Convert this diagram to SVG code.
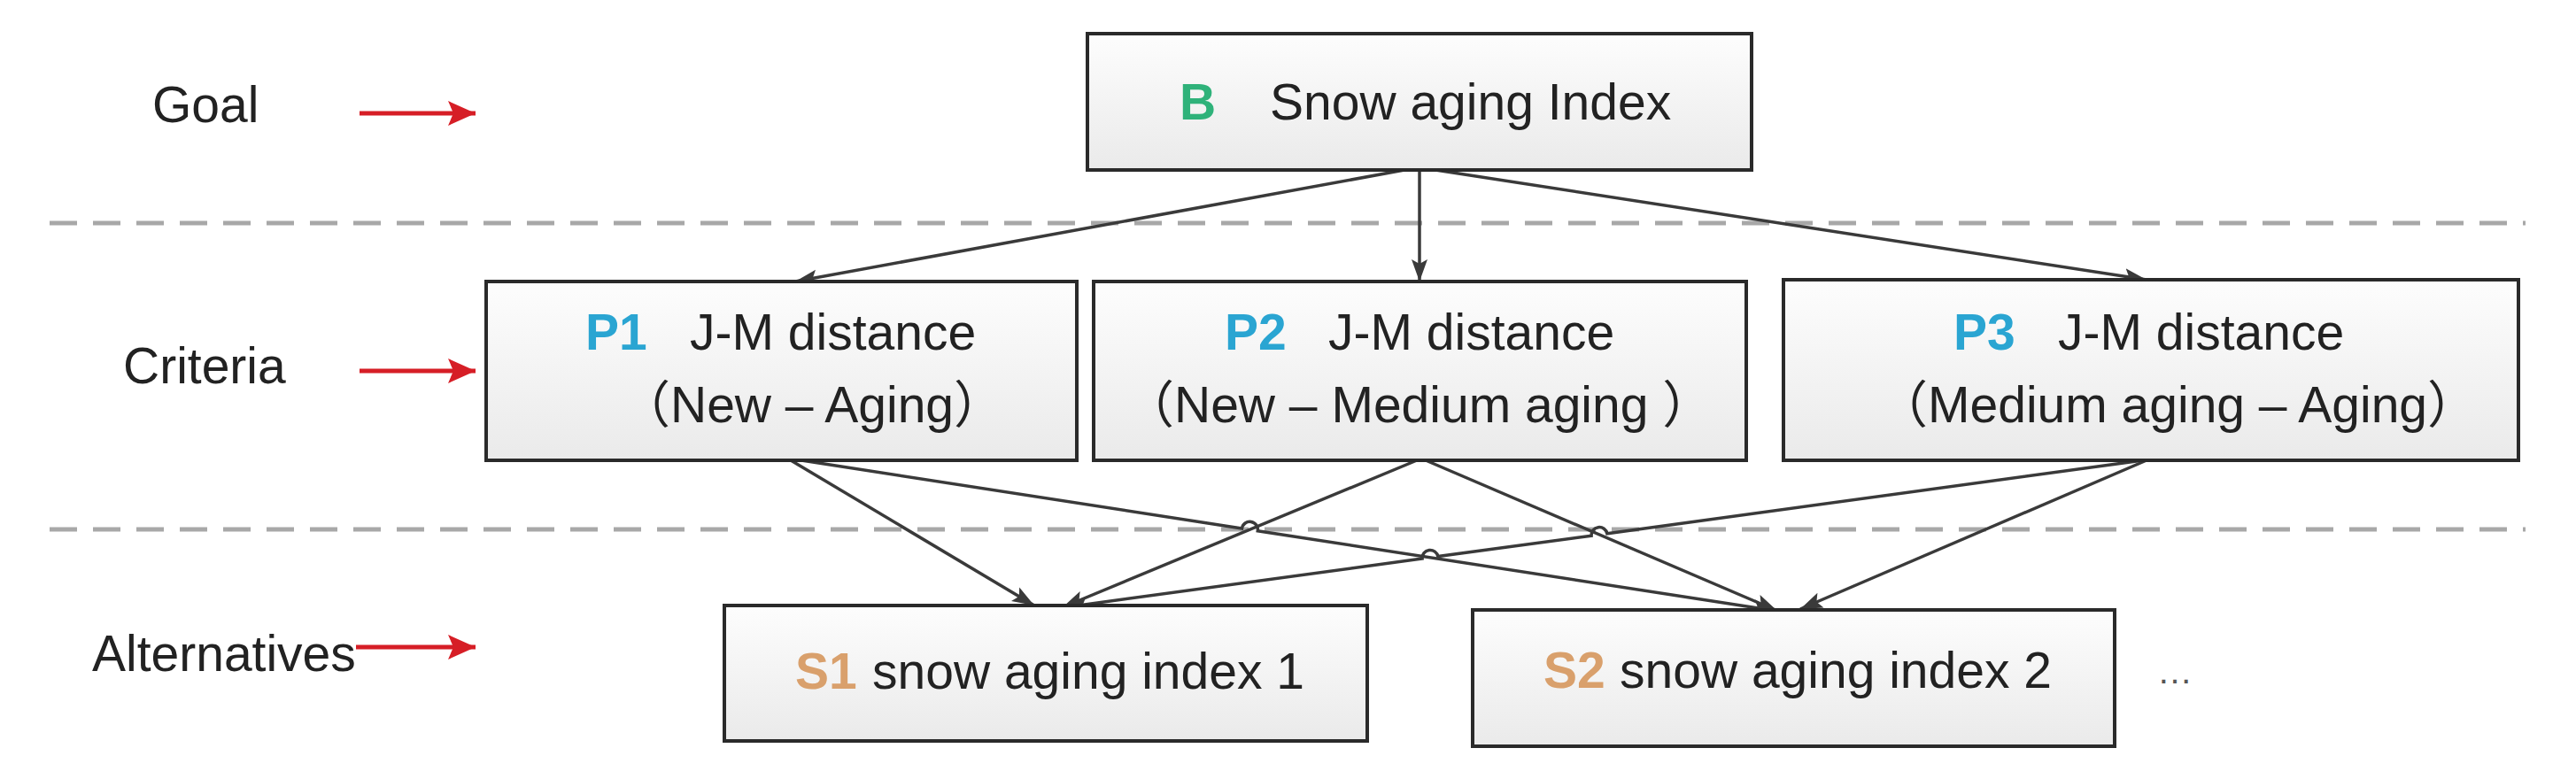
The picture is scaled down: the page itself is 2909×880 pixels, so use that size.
<svg xmlns="http://www.w3.org/2000/svg" width="2909" height="880" viewBox="0 0 2909 880">
<defs>
<linearGradient id="boxfill" x1="0" y1="0" x2="0" y2="1">
<stop offset="0" stop-color="#fdfdfd"/>
<stop offset="1" stop-color="#eaeaea"/>
</linearGradient>
<marker id="ah" markerUnits="userSpaceOnUse" markerWidth="26" markerHeight="20" refX="25" refY="10" orient="auto" viewBox="0 0 26 20">
<path d="M0,1 L25,10 L0,19 L5,10 z" fill="#3a3a3a"/>
</marker>
<marker id="rh" markerUnits="userSpaceOnUse" markerWidth="32" markerHeight="30" refX="31" refY="15" orient="auto" viewBox="0 0 32 30">
<path d="M0,1 L31,15 L0,29 L6,15 z" fill="#d61e26"/>
</marker>
</defs>
<style>
.box{fill:url(#boxfill);stroke:#2a2a2a;stroke-width:4}
.t{font-family:"Liberation Sans","Noto Sans CJK SC",Arial,sans-serif;font-size:57px;fill:#222}
.lab{font-family:"Liberation Sans",Arial,sans-serif;font-size:57px;fill:#222}
.code{font-weight:bold}
.cB{fill:#2fb27a}
.cP{fill:#2aa5d2}
.cS{fill:#d9a06c}
.dash{stroke:#a8a8a8;stroke-width:5;stroke-dasharray:31 18;fill:none}
.conn{stroke:#3a3a3a;stroke-width:3.5;fill:none;marker-end:url(#ah)}
.red{stroke:#d61e26;stroke-width:5;fill:none;marker-end:url(#rh)}
</style>
<rect width="2909" height="880" fill="#ffffff"/>

<g id="guides">
<line class="dash" x1="56" y1="252" x2="2852" y2="252"/>
<line class="dash" x1="56" y1="598" x2="2852" y2="598"/>
</g>

<g id="level-labels">
<text class="lab" x="172" y="138">Goal</text>
<line class="red" x1="406" y1="128" x2="537" y2="128"/>
<text class="lab" x="139" y="433">Criteria</text>
<line class="red" x1="406" y1="419" x2="537" y2="419"/>
<text class="lab" x="104" y="758">Alternatives</text>
<line class="red" x1="402" y1="731" x2="537" y2="731"/>
</g>

<g id="connectors">
<path class="conn" d="M1586,192 L898,318"/>
<path class="conn" d="M1603,192 L1603,318"/>
<path class="conn" d="M1621,192 L2424,316"/>
<path class="conn" d="M893,520 L1168,684"/>
<path class="conn" d="M905,520 L1402.5,596.9 A9 9 0 0 1 1420.3,599.7 L2005,690"/>
<path class="conn" d="M1600,520 L1200,686"/>
<path class="conn" d="M1610,520 L2007,690"/>
<path class="conn" d="M2420,520 L1814.9,602.8 A9 9 0 0 0 1797.1,605.2 L1623.9,628.6 A9 9 0 0 0 1606.1,631.0 L1203,686"/>
<path class="conn" d="M2424,520 L2033,688"/>
</g>

<g id="B">
<rect class="box" x="1228" y="38" width="750" height="154"/>
<text class="t" y="135"><tspan class="code cB" x="1332">B</tspan><tspan x="1434">Snow aging Index</tspan></text>
</g>

<g id="P1">
<rect class="box" x="549" y="318" width="667" height="202"/>
<text class="t" y="395"><tspan class="code cP" x="661">P1</tspan><tspan x="779">J-M distance</tspan></text>
<text class="t" x="700" y="477">（New – Aging）</text>
</g>

<g id="P2">
<rect class="box" x="1235" y="318" width="737" height="202"/>
<text class="t" y="395"><tspan class="code cP" x="1383">P2</tspan><tspan x="1500">J-M distance</tspan></text>
<text class="t" x="1269" y="477">（New – Medium aging ）</text>
</g>

<g id="P3">
<rect class="box" x="2014" y="316" width="830" height="204"/>
<text class="t" y="395"><tspan class="code cP" x="2206">P3</tspan><tspan x="2324">J-M distance</tspan></text>
<text class="t" x="2120" y="477">（Medium aging – Aging）</text>
</g>

<g id="S1">
<rect class="box" x="818" y="684" width="726" height="153"/>
<text class="t" y="778"><tspan class="code cS" x="898">S1</tspan><tspan x="985">snow aging index 1</tspan></text>
</g>

<g id="S2">
<rect class="box" x="1663" y="689" width="725" height="154"/>
<text class="t" y="777"><tspan class="code cS" x="1743">S2</tspan><tspan x="1829">snow aging index 2</tspan></text>
</g>

<g id="more">
<text x="2436" y="772" style="font-family:'Liberation Sans',Arial,sans-serif;font-size:40px;fill:#555">…</text>
</g>
</svg>
